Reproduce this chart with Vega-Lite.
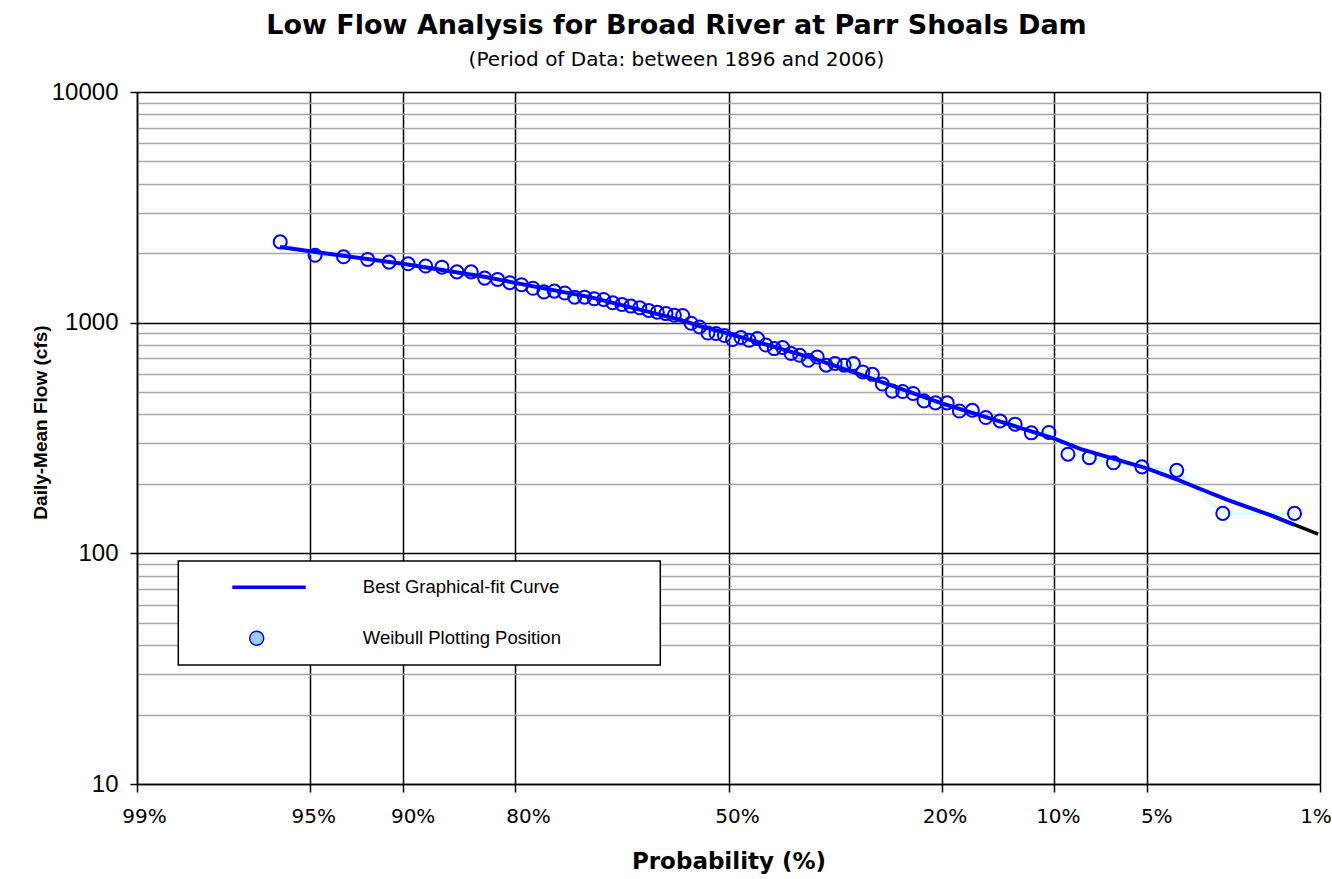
{
  "$schema": "https://vega.github.io/schema/vega-lite/v6.json",
  "width": 1183,
  "height": 692,
  "autosize": {"type": "none"},
  "padding": {"left": 137, "top": 92, "right": 12, "bottom": 95},
  "background": "white",
  "title": {
    "text": "Low Flow Analysis for Broad River at Parr Shoals Dam",
    "subtitle": "(Period of Data: between 1896 and 2006)",
    "anchor": "middle",
    "frame": "group",
    "dx": -52,
    "offset": 9.5,
    "font": "DejaVu Sans",
    "fontSize": 27,
    "fontWeight": "bold",
    "color": "#000000",
    "subtitleFont": "DejaVu Sans",
    "subtitleFontSize": 20,
    "subtitleColor": "#000000",
    "subtitlePadding": 10
  },
  "datasets": {
    "pts": [
      {"z": -1.763, "flow": 2240}, {"z": -1.626, "flow": 1960}, {"z": -1.514, "flow": 1930}, {"z": -1.419, "flow": 1880},
      {"z": -1.335, "flow": 1830}, {"z": -1.26, "flow": 1800}, {"z": -1.191, "flow": 1760}, {"z": -1.127, "flow": 1740},
      {"z": -1.068, "flow": 1660}, {"z": -1.012, "flow": 1660}, {"z": -0.959, "flow": 1560}, {"z": -0.908, "flow": 1540},
      {"z": -0.86, "flow": 1490}, {"z": -0.814, "flow": 1460}, {"z": -0.769, "flow": 1410}, {"z": -0.726, "flow": 1360},
      {"z": -0.685, "flow": 1370}, {"z": -0.644, "flow": 1345}, {"z": -0.605, "flow": 1290}, {"z": -0.566, "flow": 1290},
      {"z": -0.528, "flow": 1270}, {"z": -0.491, "flow": 1260}, {"z": -0.455, "flow": 1220}, {"z": -0.419, "flow": 1200},
      {"z": -0.384, "flow": 1180}, {"z": -0.349, "flow": 1160}, {"z": -0.314, "flow": 1130}, {"z": -0.28, "flow": 1110},
      {"z": -0.246, "flow": 1095}, {"z": -0.213, "flow": 1077}, {"z": -0.18, "flow": 1074}, {"z": -0.147, "flow": 994},
      {"z": -0.114, "flow": 958}, {"z": -0.081, "flow": 902}, {"z": -0.049, "flow": 897}, {"z": -0.016, "flow": 880},
      {"z": 0.016, "flow": 845}, {"z": 0.049, "flow": 862}, {"z": 0.081, "flow": 839}, {"z": 0.114, "flow": 853},
      {"z": 0.147, "flow": 800}, {"z": 0.18, "flow": 772}, {"z": 0.213, "flow": 780}, {"z": 0.246, "flow": 735},
      {"z": 0.28, "flow": 722}, {"z": 0.314, "flow": 687}, {"z": 0.349, "flow": 710}, {"z": 0.384, "flow": 654},
      {"z": 0.419, "flow": 665}, {"z": 0.455, "flow": 654}, {"z": 0.491, "flow": 665}, {"z": 0.528, "flow": 611},
      {"z": 0.566, "flow": 597}, {"z": 0.605, "flow": 542}, {"z": 0.644, "flow": 505}, {"z": 0.685, "flow": 503},
      {"z": 0.726, "flow": 493}, {"z": 0.769, "flow": 458}, {"z": 0.814, "flow": 449}, {"z": 0.86, "flow": 449},
      {"z": 0.908, "flow": 414}, {"z": 0.959, "flow": 417}, {"z": 1.012, "flow": 388}, {"z": 1.068, "flow": 375},
      {"z": 1.127, "flow": 363}, {"z": 1.191, "flow": 333}, {"z": 1.26, "flow": 334}, {"z": 1.335, "flow": 269},
      {"z": 1.419, "flow": 260}, {"z": 1.514, "flow": 247}, {"z": 1.626, "flow": 237}, {"z": 1.763, "flow": 229},
      {"z": 1.944, "flow": 149}, {"z": 2.226, "flow": 149}
    ],
    "fit": [
      {"z": -1.764, "flow": 2130}, {"z": -1.646, "flow": 2040}, {"z": -1.268, "flow": 1790}, {"z": -0.961, "flow": 1580},
      {"z": -0.544, "flow": 1290}, {"z": -0.189, "flow": 1028}, {"z": -0.111, "flow": 965}, {"z": 0.0, "flow": 897},
      {"z": 0.334, "flow": 700}, {"z": 0.598, "flow": 555}, {"z": 0.842, "flow": 446}, {"z": 1.279, "flow": 315},
      {"z": 1.386, "flow": 283}, {"z": 1.642, "flow": 234}, {"z": 1.768, "flow": 208}, {"z": 1.846, "flow": 192},
      {"z": 1.965, "flow": 170}, {"z": 2.134, "flow": 146}, {"z": 2.224, "flow": 133}
    ],
    "ext": [
      {"z": 2.134, "flow": 146}, {"z": 2.319, "flow": 121}
    ]
  },
  "layer": [
    {
      "data": {"name": "pts"},
      "mark": {"type": "line", "color": "#c8ffff", "strokeWidth": 2},
      "encoding": {
        "x": {
          "field": "z", "type": "quantitative",
          "scale": {"domain": [-2.3263, 2.3263], "nice": false, "zero": false},
          "axis": {
            "values": [-2.3263, -1.6449, -1.2816, -0.8416, 0, 0.8416, 1.2816, 1.6449, 2.3263],
            "labelExpr": "round(100 * cumulativeNormal(-datum.value)) + '%'",
            "grid": true, "gridColor": "#000000", "gridWidth": 1.5,
            "tickColor": "#000000", "tickSize": 8, "tickWidth": 1.5,
            "domainColor": "#000000", "domainWidth": 1.5,
            "labelFont": "DejaVu Sans", "labelFontSize": 20, "labelColor": "#000000", "labelPadding": 14,
            "labelFlush": false, "labelOverlap": false, "labelBound": false,
            "labelOffset": {"expr": "datum.value < -2 ? 7 : datum.value < -1.5 ? 3 : datum.value < -1 ? 10 : datum.value < -0.5 ? 13.5 : datum.value < 0.5 ? 8.5 : datum.value < 1 ? 2 : datum.value < 1.5 ? 3.5 : datum.value < 2 ? 9.5 : -4.5"},
            "title": "Probability (%)", "titleFont": "DejaVu Sans", "titleFontSize": 23, "titleFontWeight": "bold",
            "titleColor": "#000000", "titleY": 84, "titleBaseline": "alphabetic"
          }
        },
        "y": {
          "field": "flow", "type": "quantitative",
          "scale": {"type": "log", "domain": [10, 10000], "nice": false},
          "axis": {
            "values": [10, 20, 30, 40, 50, 60, 70, 80, 90, 100, 200, 300, 400, 500, 600, 700, 800, 900, 1000, 2000, 3000, 4000, 5000, 6000, 7000, 8000, 9000, 10000],
            "format": "d",
            "labelExpr": "(datum.value == 10 || datum.value == 100 || datum.value == 1000 || datum.value == 10000) ? datum.label : ''",
            "grid": true,
            "gridColor": {"condition": {"test": "datum.value == 10 || datum.value == 100 || datum.value == 1000 || datum.value == 10000", "value": "#000000"}, "value": "#a6a6a6"},
            "gridWidth": 1.3,
            "tickColor": {"condition": {"test": "datum.value == 10 || datum.value == 100 || datum.value == 1000 || datum.value == 10000", "value": "#000000"}, "value": "transparent"},
            "tickSize": 7, "tickWidth": 1.5,
            "domainColor": "#000000", "domainWidth": 1.5,
            "labelFont": "Liberation Sans", "labelFontSize": 24, "labelColor": "#000000", "labelPadding": 12,
            "labelOverlap": false,
            "title": "Daily-Mean Flow (cfs)", "titleFont": "Liberation Sans", "titleFontSize": 19, "titleFontWeight": "bold",
            "titleColor": "#000000", "titleX": -97, "titleY": 330, "titleBaseline": "middle", "titleAngle": 270, "titleAlign": "center"
          }
        },
        "order": {"field": "z", "type": "quantitative"}
      }
    },
    {
      "data": {"name": "ext"},
      "mark": {"type": "line", "color": "#000000", "strokeWidth": 3.5},
      "encoding": {
        "x": {"field": "z", "type": "quantitative", "scale": {"domain": [-2.3263, 2.3263], "nice": false, "zero": false}},
        "y": {"field": "flow", "type": "quantitative", "scale": {"type": "log", "domain": [10, 10000], "nice": false}}
      }
    },
    {
      "data": {"name": "fit"},
      "mark": {"type": "line", "strokeWidth": 4},
      "encoding": {
        "x": {"field": "z", "type": "quantitative", "scale": {"domain": [-2.3263, 2.3263], "nice": false, "zero": false}},
        "y": {"field": "flow", "type": "quantitative", "scale": {"type": "log", "domain": [10, 10000], "nice": false}},
        "color": {
          "datum": "Best Graphical-fit Curve",
          "scale": {"domain": ["Best Graphical-fit Curve", "Weibull Plotting Position"], "range": ["#0000ff", "#0000ff"]},
          "legend": {
            "orient": "none",
            "legendX": 41.3,
            "legendY": 469,
            "title": null,
            "padding": 17,
            "strokeColor": "#000000",
            "fillColor": "#ffffff",
            "symbolSize": 196,
            "clipHeight": 18.5,
            "symbolOffset": 52.15,
            "labelOffset": 96.85,
            "rowPadding": 32,
            "labelFont": "Liberation Sans",
            "labelFontSize": 18.5,
            "labelColor": "#000000",
            "labelLimit": 1000,
            "labelExpr": "datum.label + '\u00a0\u00a0\u00a0\u00a0\u00a0\u00a0\u00a0\u00a0\u00a0\u00a0\u00a0\u00a0\u00a0\u00a0\u00a0\u00a0\u200b'",
            "encode": {
              "legend": {"update": {"strokeWidth": {"value": 1.5}}},
              "symbols": {
                "update": {
                  "shape": {"signal": "datum.value === 'Best Graphical-fit Curve' ? 'M -3.486,0 L 7,0' : 'circle'"},
                  "fill": {"signal": "datum.value === 'Best Graphical-fit Curve' ? 'transparent' : '#99ccff'"},
                  "stroke": {"value": "#0000ff"},
                  "strokeWidth": {"signal": "datum.value === 'Best Graphical-fit Curve' ? 3.5 : 1.5"},
                  "opacity": {"value": 1},
                  "size": {"value": 196}
                }
              }
            }
          }
        }
      }
    },
    {
      "data": {"name": "pts"},
      "mark": {"type": "point", "shape": "circle", "filled": false, "size": 170, "strokeWidth": 2, "opacity": 1},
      "encoding": {
        "x": {"field": "z", "type": "quantitative", "scale": {"domain": [-2.3263, 2.3263], "nice": false, "zero": false}},
        "y": {"field": "flow", "type": "quantitative", "scale": {"type": "log", "domain": [10, 10000], "nice": false}},
        "color": {"datum": "Weibull Plotting Position"}
      }
    }
  ],
  "config": {
    "view": {"stroke": null},
    "font": "DejaVu Sans"
  }
}
